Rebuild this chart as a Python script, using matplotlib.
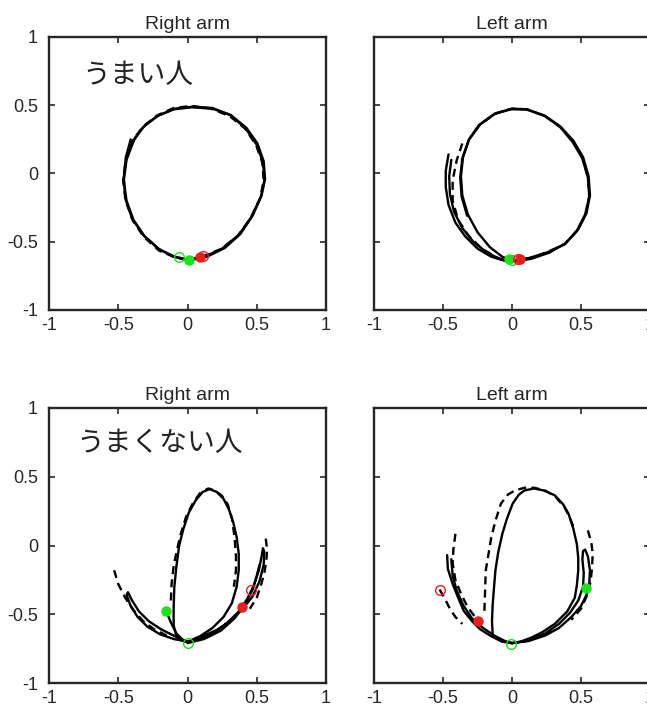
import numpy as np
import matplotlib
matplotlib.use("Agg")
import matplotlib.pyplot as plt

plt.rcParams['font.family'] = ['Liberation Sans', 'DejaVu Sans']
plt.rcParams['axes.unicode_minus'] = False

panel_titles = ["Right arm", "Left arm", "Right arm", "Left arm"]
group_labels = ["うまい人", "うまくない人"]
tick_vals = [-1, -0.5, 0, 0.5, 1]
tick_text = ["-1", "-0.5", "0", "0.5", "1"]

# ---- top left: good, right arm
tl_solid_a = [(0.00, -0.63), (0.12, -0.61), (0.25, -0.55), (0.37, -0.45), (0.46, -0.32), (0.53, -0.17),
              (0.555, -0.05), (0.545, 0.08), (0.50, 0.21), (0.42, 0.33), (0.31, 0.43), (0.18, 0.475),
              (0.03, 0.485), (-0.10, 0.47), (-0.22, 0.42), (-0.32, 0.34), (-0.39, 0.24), (-0.44, 0.10),
              (-0.46, -0.05), (-0.44, -0.20), (-0.39, -0.34), (-0.31, -0.46), (-0.20, -0.56), (-0.09, -0.61),
              (0.00, -0.63)]
tl_solid_b = [(-0.41, 0.25), (-0.445, 0.12), (-0.46, -0.03), (-0.45, -0.18), (-0.40, -0.33), (-0.32, -0.45),
              (-0.21, -0.55), (-0.10, -0.61), (0.02, -0.635), (0.14, -0.61), (0.27, -0.545), (0.38, -0.445),
              (0.47, -0.31), (0.535, -0.16), (0.56, -0.04), (0.55, 0.09), (0.505, 0.22), (0.425, 0.335),
              (0.315, 0.425), (0.18, 0.48), (0.04, 0.49), (-0.09, 0.475), (-0.21, 0.425), (-0.31, 0.35),
              (-0.38, 0.26), (-0.43, 0.14)]
tl_dash_a = [(0.10, -0.61), (0.24, -0.555), (0.36, -0.46), (0.455, -0.33), (0.525, -0.18), (0.55, -0.05),
             (0.54, 0.08), (0.495, 0.21), (0.415, 0.33), (0.305, 0.42), (0.17, 0.475), (0.03, 0.495),
             (-0.10, 0.48), (-0.22, 0.425), (-0.32, 0.345), (-0.395, 0.245), (-0.445, 0.105), (-0.465, -0.05),
             (-0.445, -0.205), (-0.395, -0.345), (-0.315, -0.465), (-0.205, -0.565), (-0.09, -0.615),
             (0.01, -0.635)]
tl_marks = {"start_open": (-0.06, -0.61), "start_fill": (0.01, -0.635),
            "end_open": (0.11, -0.605), "end_fill": (0.09, -0.61)}

# ---- top right: good, left arm
tr_loop_a = [(0.00, -0.64), (0.12, -0.62), (0.25, -0.58), (0.38, -0.52), (0.47, -0.42), (0.53, -0.30),
             (0.56, -0.17), (0.55, -0.03), (0.51, 0.11), (0.44, 0.23), (0.35, 0.34), (0.24, 0.42),
             (0.11, 0.47), (0.00, 0.475), (-0.12, 0.44), (-0.23, 0.36), (-0.31, 0.25), (-0.355, 0.12),
             (-0.37, -0.02), (-0.36, -0.16), (-0.32, -0.30), (-0.25, -0.43), (-0.16, -0.54), (-0.07, -0.61),
             (0.00, -0.64)]
tr_loop_b = [(0.02, -0.645), (0.14, -0.625), (0.27, -0.58), (0.39, -0.51), (0.48, -0.41), (0.54, -0.29),
             (0.565, -0.16), (0.555, -0.02), (0.515, 0.12), (0.445, 0.24), (0.35, 0.345), (0.235, 0.425),
             (0.10, 0.47), (-0.01, 0.47), (-0.13, 0.435), (-0.24, 0.355), (-0.315, 0.245), (-0.36, 0.11),
             (-0.375, -0.03), (-0.365, -0.17), (-0.325, -0.31)]
tr_arc_a = [(-0.46, 0.14), (-0.48, 0.02), (-0.48, -0.10), (-0.46, -0.23), (-0.41, -0.36), (-0.34, -0.46),
            (-0.25, -0.55), (-0.15, -0.61), (-0.05, -0.64), (0.00, -0.645)]
tr_arc_b = [(-0.44, 0.10), (-0.455, -0.02), (-0.45, -0.15), (-0.42, -0.28), (-0.36, -0.40), (-0.28, -0.50),
            (-0.18, -0.58), (-0.08, -0.63), (0.00, -0.645)]
tr_dash_a = [(-0.36, 0.22), (-0.40, 0.10), (-0.43, -0.05), (-0.43, -0.20), (-0.39, -0.34), (-0.32, -0.45),
             (-0.22, -0.55), (-0.10, -0.62), (0.00, -0.645)]
tr_dash_b = [(0.00, -0.64), (0.13, -0.62), (0.26, -0.575), (0.385, -0.515), (0.475, -0.415), (0.535, -0.295),
             (0.56, -0.165), (0.55, -0.025), (0.51, 0.115), (0.44, 0.235), (0.35, 0.34), (0.24, 0.42),
             (0.11, 0.47), (0.00, 0.475), (-0.12, 0.44), (-0.23, 0.36)]
tr_marks = {"start_open": (0.00, -0.635), "start_fill": (-0.025, -0.63),
            "end_open": (0.04, -0.63), "end_fill": (0.055, -0.625)}

# ---- bottom left: poor, right arm
bl_tall = [(-0.02, -0.70), (-0.08, -0.66), (-0.10, -0.58), (-0.10, -0.45), (-0.095, -0.30), (-0.08, -0.15),
           (-0.06, 0.00), (-0.03, 0.12), (0.01, 0.24), (0.06, 0.33), (0.11, 0.39), (0.16, 0.41), (0.21, 0.39),
           (0.26, 0.34), (0.30, 0.26), (0.33, 0.17), (0.355, 0.06), (0.37, -0.06), (0.37, -0.18),
           (0.355, -0.30), (0.32, -0.42), (0.26, -0.52), (0.18, -0.60), (0.09, -0.66), (0.00, -0.70)]
bl_tall_dash = [(-0.12, -0.40), (-0.115, -0.28), (-0.10, -0.15), (-0.08, -0.05), (-0.05, 0.08), (-0.01, 0.21),
                (0.04, 0.31), (0.09, 0.38), (0.15, 0.415), (0.20, 0.40), (0.25, 0.36), (0.29, 0.30),
                (0.32, 0.20), (0.34, 0.06), (0.35, -0.08), (0.35, -0.18), (0.335, -0.30)]
bl_right = [(0.00, -0.70), (0.10, -0.675), (0.20, -0.63), (0.29, -0.56), (0.37, -0.48), (0.43, -0.39),
            (0.48, -0.29), (0.515, -0.18), (0.535, -0.08), (0.545, -0.02), (0.555, -0.05), (0.55, -0.14),
            (0.52, -0.26), (0.47, -0.37), (0.40, -0.46), (0.32, -0.54), (0.22, -0.61), (0.11, -0.66),
            (0.00, -0.70)]
bl_right_b = [(0.00, -0.71), (0.12, -0.68), (0.24, -0.62), (0.34, -0.53), (0.42, -0.42), (0.47, -0.32),
              (0.50, -0.22), (0.52, -0.14)]
bl_right_dash = [(0.565, 0.05), (0.575, -0.03), (0.57, -0.10), (0.555, -0.20), (0.53, -0.29), (0.50, -0.38),
                 (0.45, -0.46)]
bl_hook = [(0.00, -0.70), (-0.10, -0.68), (-0.20, -0.645), (-0.29, -0.59), (-0.36, -0.52), (-0.41, -0.44),
           (-0.44, -0.36), (-0.43, -0.34), (-0.40, -0.40), (-0.35, -0.48), (-0.28, -0.55), (-0.19, -0.61),
           (-0.09, -0.66), (0.00, -0.70)]
bl_hook_dash = [(-0.53, -0.18), (-0.50, -0.28), (-0.45, -0.38), (-0.39, -0.47), (-0.32, -0.55), (-0.24, -0.61),
                (-0.15, -0.655)]
bl_start = [(-0.155, -0.475), (-0.12, -0.56), (-0.08, -0.64), (-0.03, -0.69), (0.00, -0.70)]
bl_marks = {"start_open": (0.00, -0.71), "start_fill": (-0.155, -0.475),
            "end_open": (0.46, -0.32), "end_fill": (0.395, -0.45)}

# ---- bottom right: poor, left arm
br_tall = [(0.00, -0.71), (-0.08, -0.69), (-0.14, -0.65), (-0.145, -0.55), (-0.14, -0.43), (-0.13, -0.30),
           (-0.12, -0.18), (-0.10, -0.05), (-0.07, 0.085), (-0.035, 0.20), (0.005, 0.305), (0.05, 0.37),
           (0.09, 0.40), (0.16, 0.415), (0.23, 0.40), (0.31, 0.365), (0.37, 0.30), (0.41, 0.23),
           (0.445, 0.12), (0.47, 0.01), (0.48, -0.09), (0.48, -0.18), (0.47, -0.29), (0.455, -0.38),
           (0.40, -0.48), (0.31, -0.57), (0.22, -0.63), (0.14, -0.67), (0.06, -0.70), (0.00, -0.71)]
br_tall_dash = [(-0.20, -0.475), (-0.195, -0.33), (-0.19, -0.18), (-0.17, -0.06), (-0.15, 0.06), (-0.12, 0.18),
                (-0.08, 0.305), (-0.03, 0.37), (0.02, 0.40), (0.09, 0.42), (0.16, 0.42), (0.24, 0.40),
                (0.31, 0.36), (0.38, 0.28), (0.42, 0.20), (0.455, 0.11)]
br_spike = [(0.00, -0.71), (0.12, -0.69), (0.24, -0.64), (0.34, -0.57), (0.42, -0.49), (0.48, -0.40),
            (0.515, -0.30), (0.52, -0.20), (0.51, -0.10), (0.515, -0.04), (0.53, -0.03), (0.55, -0.08),
            (0.565, -0.18), (0.56, -0.28), (0.54, -0.36), (0.50, -0.44), (0.43, -0.52), (0.34, -0.60),
            (0.24, -0.655), (0.12, -0.695), (0.00, -0.71)]
br_spike_dash = [(0.55, 0.11), (0.575, 0.02), (0.585, -0.06), (0.58, -0.16), (0.57, -0.26), (0.545, -0.36),
                 (0.50, -0.46), (0.43, -0.54)]
br_left_a = [(-0.47, -0.07), (-0.465, -0.17), (-0.43, -0.28), (-0.39, -0.38), (-0.35, -0.475), (-0.29, -0.55),
             (-0.23, -0.61), (-0.15, -0.66), (-0.07, -0.70), (0.00, -0.71)]
br_left_b = [(-0.44, -0.10), (-0.43, -0.22), (-0.40, -0.33), (-0.35, -0.44), (-0.29, -0.53), (-0.21, -0.60),
             (-0.12, -0.66), (-0.04, -0.70), (0.00, -0.71)]
br_left_dash = [(-0.41, 0.085), (-0.425, -0.03), (-0.43, -0.13), (-0.41, -0.25), (-0.37, -0.35),
                (-0.32, -0.45), (-0.26, -0.53)]
br_tail_dash = [(-0.525, -0.32), (-0.49, -0.38), (-0.45, -0.46), (-0.41, -0.52), (-0.36, -0.57)]
br_marks = {"start_open": (-0.005, -0.715), "start_fill": (0.535, -0.31),
            "end_open": (-0.525, -0.32), "end_fill": (-0.245, -0.55)}

panels = [
    ([tl_solid_a, tl_solid_b], [tl_dash_a], tl_marks),
    ([tr_loop_a, tr_loop_b, tr_arc_a, tr_arc_b], [tr_dash_a, tr_dash_b], tr_marks),
    ([bl_tall, bl_right, bl_right_b, bl_hook, bl_start], [bl_tall_dash, bl_right_dash, bl_hook_dash], bl_marks),
    ([br_tall, br_spike, br_left_a, br_left_b], [br_tall_dash, br_spike_dash, br_left_dash, br_tail_dash], br_marks),
]

green = '#1ee01e'
red = '#e8201c'
axcol = '#262626'

fig = plt.figure(figsize=(6.47, 7.13), dpi=100)
rects = [[49 / 647, 1 - 310 / 713, 277 / 647, 273 / 713],
         [374 / 647, 1 - 310 / 713, 276 / 647, 273 / 713],
         [49 / 647, 1 - 683 / 713, 277 / 647, 275 / 713],
         [374 / 647, 1 - 683 / 713, 276 / 647, 275 / 713]]

for i, (solids, dashes, marks) in enumerate(panels):
    ax = fig.add_axes(rects[i])
    for tr in solids:
        xy = np.array(tr)
        ax.plot(xy[:, 0], xy[:, 1], color='k', lw=1.7, solid_joinstyle='round', solid_capstyle='round')
    for tr in dashes:
        xy = np.array(tr)
        ax.plot(xy[:, 0], xy[:, 1], color='k', lw=1.7, linestyle=(0, (3.4, 2.2)))
    ax.plot(*marks["start_open"], 'o', mfc='none', mec=green, ms=7, mew=1.0)
    ax.plot(*marks["start_fill"], 'o', color=green, ms=6.5)
    ax.plot(*marks["end_open"], 'o', mfc='none', mec=red, ms=7, mew=1.0)
    ax.plot(*marks["end_fill"], 'o', color=red, ms=6.5)

    ax.set_xlim(-1, 1)
    ax.set_ylim(-1, 1)
    ax.set_xticks(tick_vals)
    ax.set_xticklabels(tick_text)
    ax.set_yticks(tick_vals)
    if i % 2 == 0:
        ax.set_yticklabels(tick_text)
    else:
        ax.set_yticklabels([])
    ax.tick_params(direction='in', top=True, right=True, length=4, width=1.2,
                   colors=axcol, labelsize=13, labelcolor=axcol)
    ax.tick_params(axis='x', pad=5)
    ax.tick_params(axis='y', pad=8)
    for s in ax.spines.values():
        s.set_linewidth(1.7)
        s.set_color(axcol)
    ax.set_title(panel_titles[i], fontsize=14, color=axcol, pad=6)

    if i == 0:
        ax.text(-0.76, 0.72, group_labels[0], fontsize=20, va='center', ha='left',
                family=['Noto Sans CJK JP', 'DejaVu Sans'], color='#222222')
    if i == 2:
        ax.text(-0.80, 0.745, group_labels[1], fontsize=20, va='center', ha='left',
                family=['Noto Sans CJK JP', 'DejaVu Sans'], color='#222222')

fig.savefig("out.png", dpi=100)
